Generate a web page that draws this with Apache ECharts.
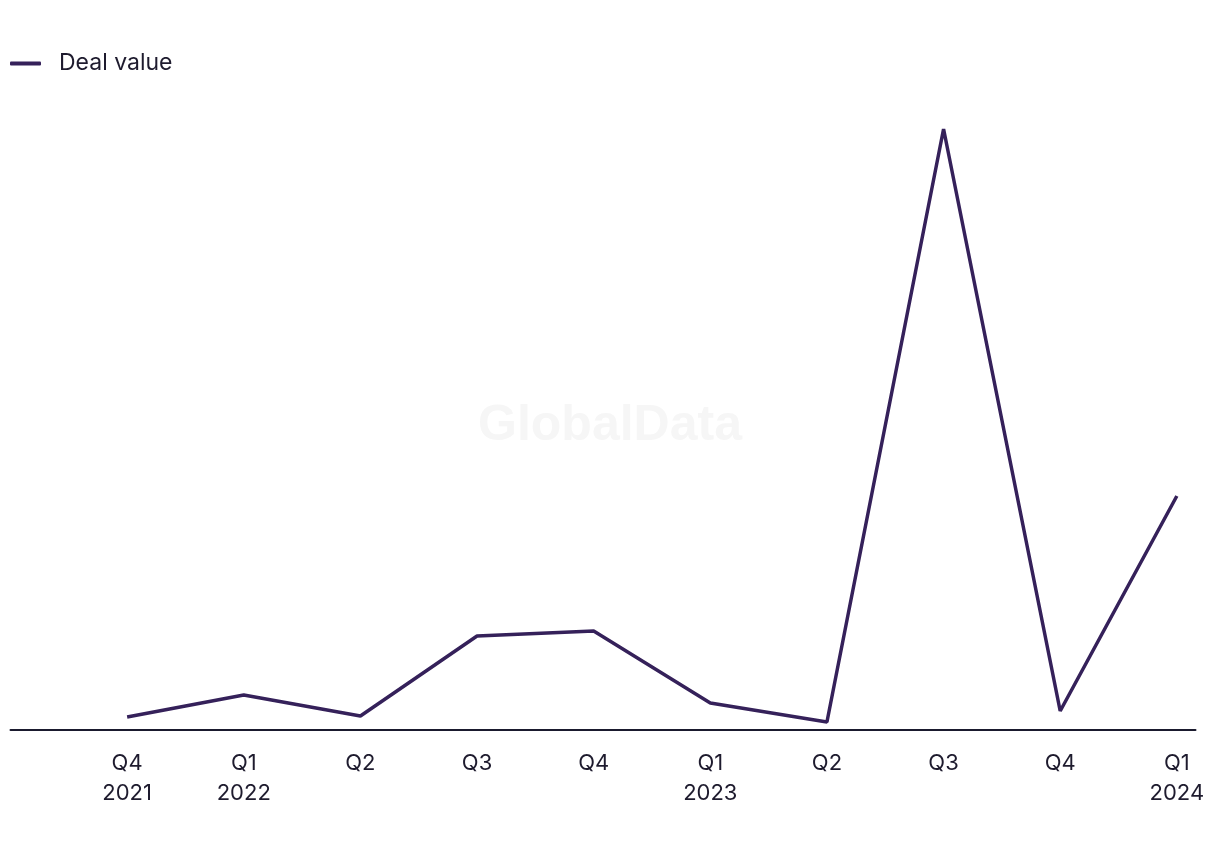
<!DOCTYPE html>
<html><head><meta charset="utf-8">
<script src="https://cdn.jsdelivr.net/npm/echarts@6/dist/echarts.min.js"></script>
<style>html,body{margin:0;padding:0;background:#fff}#c{width:1220px;height:850px}</style>
</head><body><div id="c"></div>
<script>
var categories = ['Q4\n2021','Q1\n2022','Q2','Q3','Q4','Q1\n2023','Q2','Q3','Q4','Q1\n2024'];
var dealValue = [13, 35, 14, 94, 99, 27, 8, 601, 19, 234];
var seriesName = 'Deal value';

var chart = echarts.init(document.getElementById('c'));
var pts = dealValue.map(function(v,i){return [i,v];});
chart.setOption({
  animation:false,
  backgroundColor:'#fff',
  textStyle:{fontFamily:'Inter, "Noto Sans", sans-serif'},
  graphic:[{type:'text',left:'center',top:401,z:0,style:{text:'GlobalData',fontSize:50,fontWeight:'bold',fill:'#f6f6f6',fontFamily:'"Liberation Sans", Arial, sans-serif'}}],
  legend:{show:true,left:10,top:52,padding:0,itemWidth:31,itemHeight:4,itemGap:18,icon:'roundRect',
    textStyle:{fontSize:23,color:'#1e1b2e',fontFamily:'Inter, sans-serif',padding:[0,0,0,13]},data:[seriesName]},
  grid:{left:10.5,right:24.5,top:100,bottom:120,containLabel:false},
  xAxis:{type:'value',min:-1,max:9.16,interval:1,
    axisLine:{show:true,lineStyle:{color:'#1a1a2e',width:2}},
    axisTick:{show:false},splitLine:{show:false},
    axisLabel:{show:true,margin:18,fontSize:22,lineHeight:30,color:'#1e1b2e',
      showMinLabel:false,showMaxLabel:true,
      formatter:function(v){var i=Math.round(v);if(Math.abs(v-i)>1e-6||i<0||i>=categories.length)return '';return categories[i];}}},
  yAxis:{type:'value',min:0,max:630,show:false,splitLine:{show:false}},
  series:[{name:seriesName,type:'line',data:pts,symbol:'none',
    lineStyle:{color:'#35215a',width:3.5},itemStyle:{color:'#35215a'}}]
});
</script></body></html>
